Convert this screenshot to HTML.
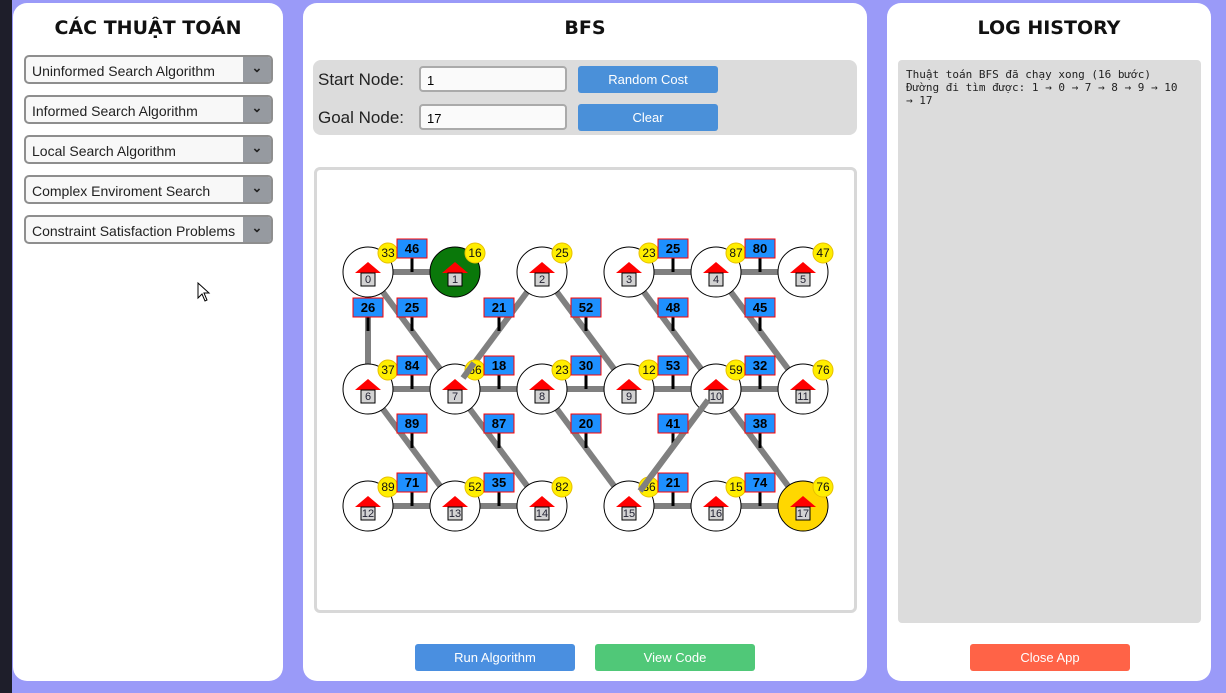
<!DOCTYPE html>
<html><head><meta charset="utf-8"><style>
*{box-sizing:border-box;margin:0;padding:0}
body{width:1226px;height:693px;background:#9a9af8;font-family:"Liberation Sans","DejaVu Sans",sans-serif;position:relative;overflow:hidden}
.panel{position:absolute;background:#fff;border-radius:14px}
h2{font-family:"DejaVu Sans",sans-serif;font-size:19px;font-weight:bold;text-align:center;color:#111}
.sel{position:absolute;left:11px;width:249px;height:29px;border:2px solid #8e8e8e;border-radius:5px;background:#f8f8f8;font-family:"Liberation Sans",sans-serif;font-size:14px;color:#222;padding:6px 0 0 6px;overflow:hidden}
.sel .ar{position:absolute;right:0;top:0;width:28px;height:100%;background:#969aa0;color:#222;font-size:13px;font-weight:bold;text-align:center;line-height:22px}
.btn{position:absolute;color:#fff;font-size:13px;text-align:center;border-radius:3px}
.inp{position:absolute;left:106px;width:148px;height:26px;border:2px solid #aaa;border-radius:4px;background:#fafafa;font-size:13px;padding:5px 0 0 6px}
.lbl{position:absolute;left:5px;font-size:17px;color:#222}
</style></head><body>
<div style="position:absolute;left:0;top:0;width:12px;height:693px;background:#1e1e2a"></div>
<div class="panel" style="left:13px;top:3px;width:270px;height:678px">
<h2 style="margin-top:14px">CÁC THUẬT TOÁN</h2>
<div class="sel" style="top:52px">Uninformed Search Algorithm<div class="ar">&#8964;</div></div>
<div class="sel" style="top:92px">Informed Search Algorithm<div class="ar">&#8964;</div></div>
<div class="sel" style="top:132px">Local Search Algorithm<div class="ar">&#8964;</div></div>
<div class="sel" style="top:172px">Complex Enviroment Search<div class="ar">&#8964;</div></div>
<div class="sel" style="top:212px">Constraint Satisfaction Problems<div class="ar">&#8964;</div></div>
</div>
<div class="panel" style="left:303px;top:3px;width:564px;height:678px">
<h2 style="margin-top:14px">BFS</h2>
<div style="position:absolute;left:10px;top:57px;width:544px;height:75px;background:#dcdcdc;border-radius:8px">
<div class="lbl" style="top:10px">Start Node:</div><div class="inp" style="top:6px">1</div>
<div class="btn" style="left:265px;top:6px;width:140px;height:27px;line-height:27px;background:#4a90d9">Random Cost</div>
<div class="lbl" style="top:48px">Goal Node:</div><div class="inp" style="top:44px">17</div>
<div class="btn" style="left:265px;top:44px;width:140px;height:27px;line-height:27px;background:#4a90d9">Clear</div>
</div>
<div style="position:absolute;left:11px;top:164px;width:543px;height:446px;border:3px solid #d8d8d8;border-radius:6px"></div>
<div class="btn" style="left:112px;top:641px;width:160px;height:27px;line-height:27px;background:#4a8fe0">Run Algorithm</div>
<div class="btn" style="left:292px;top:641px;width:160px;height:27px;line-height:27px;background:#50c878">View Code</div>
</div>
<div class="panel" style="left:887px;top:3px;width:324px;height:678px">
<h2 style="margin-top:14px">LOG HISTORY</h2>
<div style="position:absolute;left:11px;top:57px;width:303px;height:563px;background:#dcdcdc;border-radius:4px;font-family:'DejaVu Sans Mono','Liberation Mono',monospace;font-size:11px;line-height:13px;padding:8px 8px;color:#222">Thuật toán BFS đã chạy xong (16 bước)<br>Đường đi tìm được: 1 → 0 → 7 → 8 → 9 → 10<br>→ 17</div>
<div class="btn" style="left:83px;top:641px;width:160px;height:27px;line-height:27px;background:#ff6347">Close App</div>
</div>
<svg width="1226" height="693" style="position:absolute;left:0;top:0" font-family="Liberation Sans,sans-serif">
<g stroke="#808080" stroke-width="6">
<line x1="368" y1="272" x2="455" y2="272"/><line x1="629" y1="272" x2="716" y2="272"/><line x1="716" y1="272" x2="803" y2="272"/>
<line x1="368" y1="389" x2="803" y2="389"/>
<line x1="368" y1="506" x2="542" y2="506"/><line x1="629" y1="506" x2="803" y2="506"/>
<line x1="368" y1="272" x2="368" y2="389"/><line x1="368" y1="272" x2="455" y2="389"/><line x1="542" y1="272" x2="455" y2="389"/>
<line x1="542" y1="272" x2="629" y2="389"/><line x1="629" y1="272" x2="716" y2="389"/><line x1="716" y1="272" x2="803" y2="389"/>
<line x1="368" y1="389" x2="455" y2="506"/><line x1="455" y1="389" x2="542" y2="506"/><line x1="542" y1="389" x2="629" y2="506"/>
<line x1="716" y1="389" x2="629" y2="506"/><line x1="716" y1="389" x2="803" y2="506"/>
</g>
<g stroke="#000" stroke-width="3">
<line x1="412" y1="257" x2="412" y2="272"/><line x1="673" y1="257" x2="673" y2="272"/><line x1="760" y1="257" x2="760" y2="272"/>
<line x1="412" y1="374" x2="412" y2="389"/><line x1="499" y1="374" x2="499" y2="389"/><line x1="586" y1="374" x2="586" y2="389"/><line x1="673" y1="374" x2="673" y2="389"/><line x1="760" y1="374" x2="760" y2="389"/>
<line x1="412" y1="491" x2="412" y2="506"/><line x1="499" y1="491" x2="499" y2="506"/><line x1="673" y1="491" x2="673" y2="506"/><line x1="760" y1="491" x2="760" y2="506"/>
<line x1="368" y1="316" x2="368" y2="331"/><line x1="412" y1="316" x2="412" y2="331"/><line x1="499" y1="316" x2="499" y2="331"/><line x1="586" y1="316" x2="586" y2="331"/><line x1="673" y1="316" x2="673" y2="331"/><line x1="760" y1="316" x2="760" y2="331"/>
<line x1="412" y1="433" x2="412" y2="448"/><line x1="499" y1="433" x2="499" y2="448"/><line x1="586" y1="433" x2="586" y2="448"/><line x1="673" y1="433" x2="673" y2="448"/><line x1="760" y1="433" x2="760" y2="448"/>
</g>
<defs>
<g id="h"><polygon points="-13,1 13,1 0,-10" fill="#f00"/><rect x="-7" y="1" width="14" height="13" fill="#d3d3d3" stroke="#000"/></g>
</defs>
<g stroke="#000" fill="#fff">
<circle cx="368" cy="272" r="25"/><circle cx="455" cy="272" r="25" fill="#0a780a"/><circle cx="542" cy="272" r="25"/><circle cx="629" cy="272" r="25"/><circle cx="716" cy="272" r="25"/><circle cx="803" cy="272" r="25"/>
<circle cx="368" cy="389" r="25"/><circle cx="455" cy="389" r="25"/><circle cx="542" cy="389" r="25"/><circle cx="629" cy="389" r="25"/><circle cx="716" cy="389" r="25"/><circle cx="803" cy="389" r="25"/>
<circle cx="368" cy="506" r="25"/><circle cx="455" cy="506" r="25"/><circle cx="542" cy="506" r="25"/><circle cx="629" cy="506" r="25"/><circle cx="716" cy="506" r="25"/><circle cx="803" cy="506" r="25" fill="#ffd700"/>
</g>
<g>
<use href="#h" x="368" y="272"/><use href="#h" x="455" y="272"/><use href="#h" x="542" y="272"/><use href="#h" x="629" y="272"/><use href="#h" x="716" y="272"/><use href="#h" x="803" y="272"/>
<use href="#h" x="368" y="389"/><use href="#h" x="455" y="389"/><use href="#h" x="542" y="389"/><use href="#h" x="629" y="389"/><use href="#h" x="716" y="389"/><use href="#h" x="803" y="389"/>
<use href="#h" x="368" y="506"/><use href="#h" x="455" y="506"/><use href="#h" x="542" y="506"/><use href="#h" x="629" y="506"/><use href="#h" x="716" y="506"/><use href="#h" x="803" y="506"/>
</g>
<g font-size="11" text-anchor="middle" fill="#223">
<text x="368" y="283">0</text><text x="455" y="283">1</text><text x="542" y="283">2</text><text x="629" y="283">3</text><text x="716" y="283">4</text><text x="803" y="283">5</text>
<text x="368" y="400">6</text><text x="455" y="400">7</text><text x="542" y="400">8</text><text x="629" y="400">9</text><text x="716" y="400">10</text><text x="803" y="400">11</text>
<text x="368" y="517">12</text><text x="455" y="517">13</text><text x="542" y="517">14</text><text x="629" y="517">15</text><text x="716" y="517">16</text><text x="803" y="517">17</text>
</g>
<g fill="#ffee00" stroke="#e8c000">
<circle cx="388" cy="253" r="10"/><circle cx="475" cy="253" r="10"/><circle cx="562" cy="253" r="10"/><circle cx="649" cy="253" r="10"/><circle cx="736" cy="253" r="10"/><circle cx="823" cy="253" r="10"/>
<circle cx="388" cy="370" r="10"/><circle cx="475" cy="370" r="10"/><circle cx="562" cy="370" r="10"/><circle cx="649" cy="370" r="10"/><circle cx="736" cy="370" r="10"/><circle cx="823" cy="370" r="10"/>
<circle cx="388" cy="487" r="10"/><circle cx="475" cy="487" r="10"/><circle cx="562" cy="487" r="10"/><circle cx="649" cy="487" r="10"/><circle cx="736" cy="487" r="10"/><circle cx="823" cy="487" r="10"/>
</g>
<g font-size="12" text-anchor="middle" fill="#111">
<text x="388" y="257">33</text><text x="475" y="257">16</text><text x="562" y="257">25</text><text x="649" y="257">23</text><text x="736" y="257">87</text><text x="823" y="257">47</text>
<text x="388" y="374">37</text><text x="475" y="374">66</text><text x="562" y="374">23</text><text x="649" y="374">12</text><text x="736" y="374">59</text><text x="823" y="374">76</text>
<text x="388" y="491">89</text><text x="475" y="491">52</text><text x="562" y="491">82</text><text x="649" y="491">36</text><text x="736" y="491">15</text><text x="823" y="491">76</text>
</g>
<g stroke="#808080" stroke-width="6"><line x1="463" y1="378" x2="474" y2="363"/><line x1="708" y1="400" x2="640" y2="491"/></g>
<g fill="#1e90ff" stroke="#f00" stroke-width="1">
<rect x="397" y="239" width="30" height="19"/><rect x="658" y="239" width="30" height="19"/><rect x="745" y="239" width="30" height="19"/>
<rect x="397" y="356" width="30" height="19"/><rect x="484" y="356" width="30" height="19"/><rect x="571" y="356" width="30" height="19"/><rect x="658" y="356" width="30" height="19"/><rect x="745" y="356" width="30" height="19"/>
<rect x="397" y="473" width="30" height="19"/><rect x="484" y="473" width="30" height="19"/><rect x="658" y="473" width="30" height="19"/><rect x="745" y="473" width="30" height="19"/>
<rect x="353" y="298" width="30" height="19"/><rect x="397" y="298" width="30" height="19"/><rect x="484" y="298" width="30" height="19"/><rect x="571" y="298" width="30" height="19"/><rect x="658" y="298" width="30" height="19"/><rect x="745" y="298" width="30" height="19"/>
<rect x="397" y="414" width="30" height="19"/><rect x="484" y="414" width="30" height="19"/><rect x="571" y="414" width="30" height="19"/><rect x="658" y="414" width="30" height="19"/><rect x="745" y="414" width="30" height="19"/>
</g>
<g font-size="13" font-weight="bold" text-anchor="middle" fill="#000">
<text x="412" y="253">46</text><text x="673" y="253">25</text><text x="760" y="253">80</text>
<text x="412" y="370">84</text><text x="499" y="370">18</text><text x="586" y="370">30</text><text x="673" y="370">53</text><text x="760" y="370">32</text>
<text x="412" y="487">71</text><text x="499" y="487">35</text><text x="673" y="487">21</text><text x="760" y="487">74</text>
<text x="368" y="312">26</text><text x="412" y="312">25</text><text x="499" y="312">21</text><text x="586" y="312">52</text><text x="673" y="312">48</text><text x="760" y="312">45</text>
<text x="412" y="428">89</text><text x="499" y="428">87</text><text x="586" y="428">20</text><text x="673" y="428">41</text><text x="760" y="428">38</text>
</g>
<path d="M198 283 L198 298 L202 294 L205 301 L207 300 L204 293 L209 293 Z" fill="#fff" stroke="#000" stroke-width="1"/>
</svg>
</body></html>
